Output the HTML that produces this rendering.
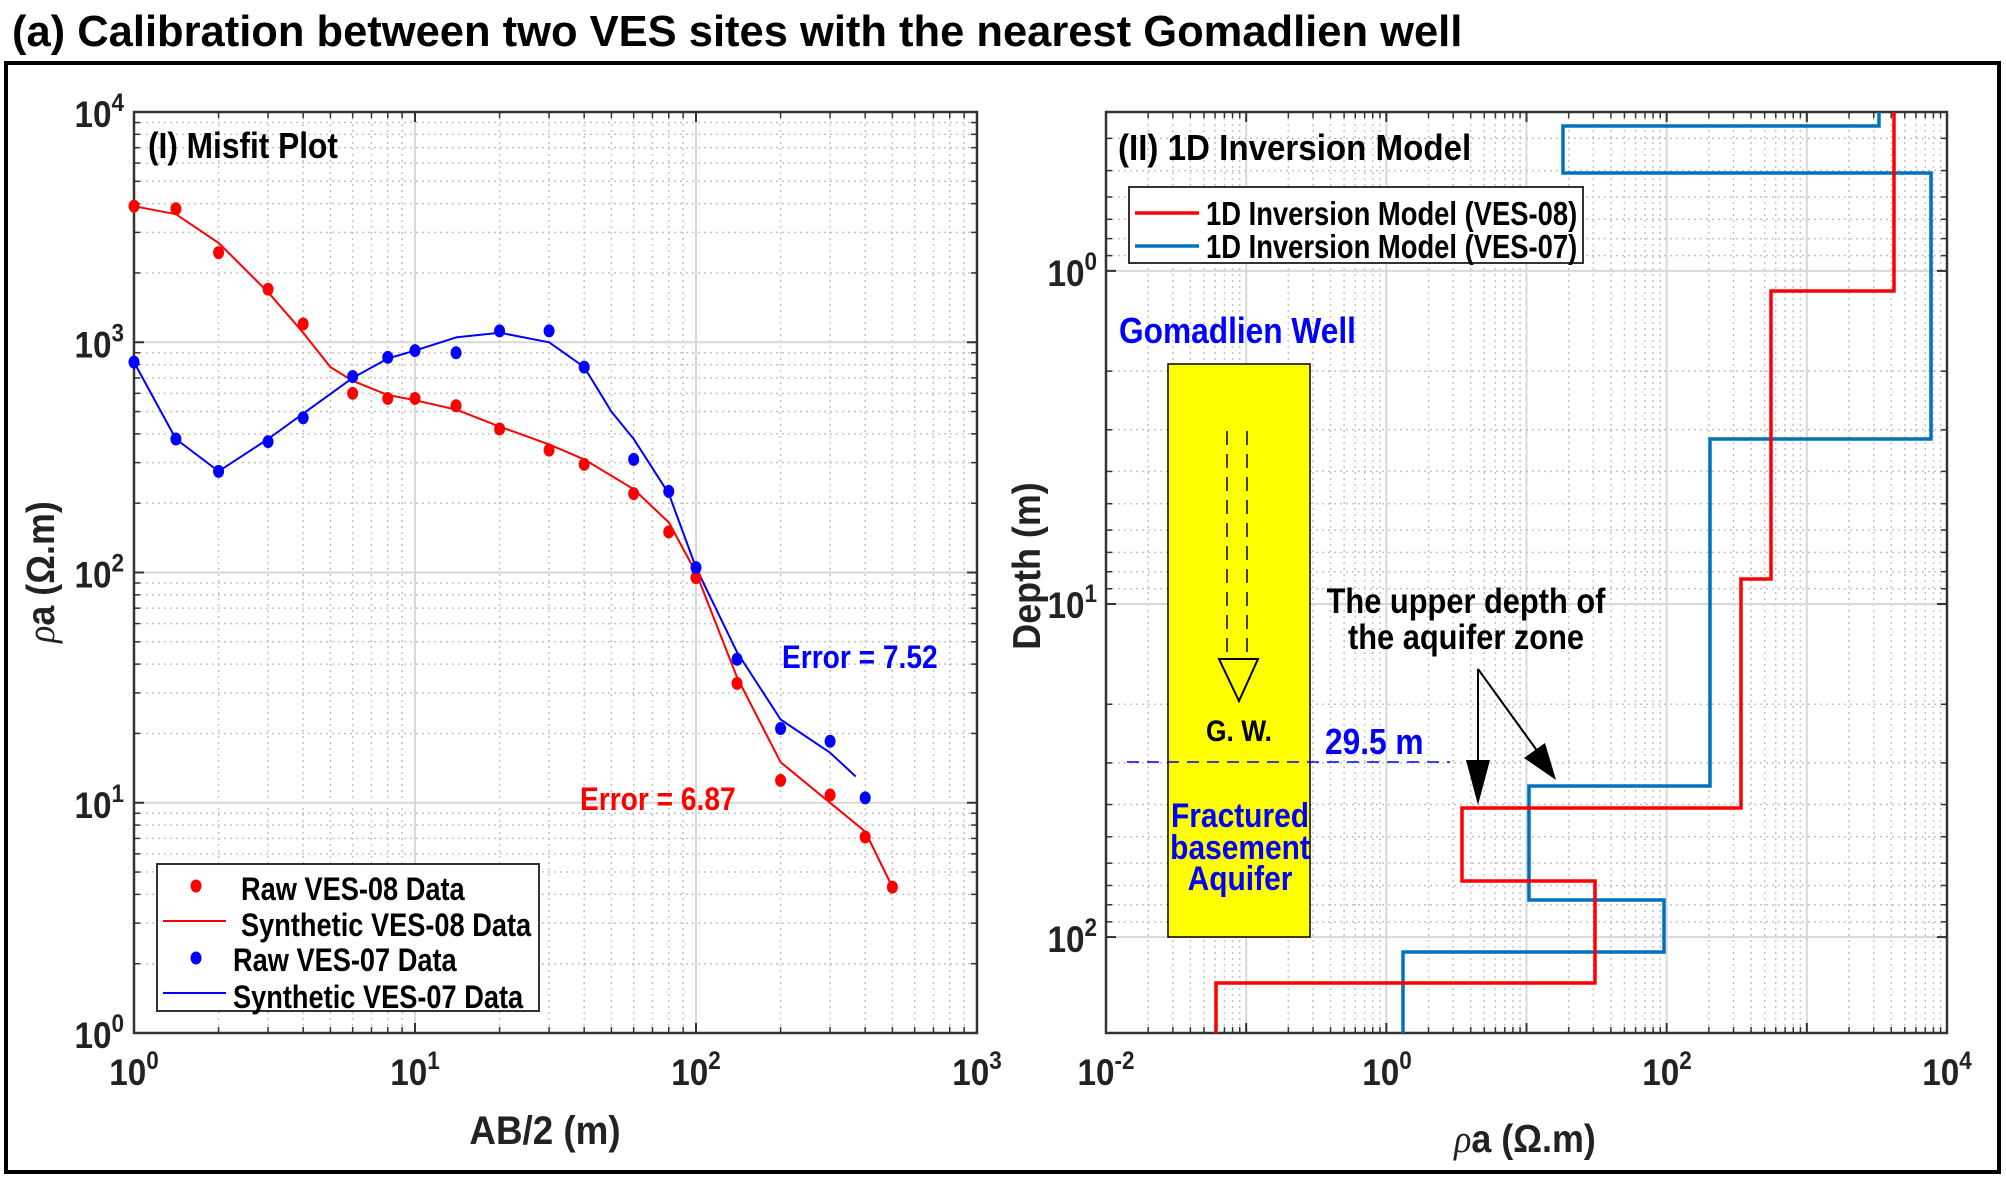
<!DOCTYPE html>
<html><head><meta charset="utf-8"><style>
html,body{margin:0;padding:0;background:#fff}
svg{display:block}
text{font-family:"Liberation Sans Narrow","Liberation Sans",Arial,sans-serif;font-weight:bold}
</style></head><body>
<svg id="s" width="2006" height="1178" xmlns="http://www.w3.org/2000/svg">
<rect width="2006" height="1178" fill="#fff"/>
<text x="12" y="46" font-size="43.5" font-family="Liberation Sans, sans-serif" fill="#000">(a) Calibration between two VES sites with the nearest Gomadlien well</text>
<rect x="6" y="63" width="1993" height="1109" fill="none" stroke="#000" stroke-width="4"/>
<g id="g"></g>
</svg>
<script>
const NS="http://www.w3.org/2000/svg";const G=document.getElementById('g');const SX=0.88;
function el(t,a,p){const e=document.createElementNS(NS,t);for(const k in a)e.setAttribute(k,a[k]);(p||G).appendChild(e);return e;}
function txt(x,y,s,o){o=o||{};const sx=o.sx||SX;const tr=o.tr?o.tr+' scale('+sx+',1)':'translate('+x+','+y+') scale('+sx+',1)';
 const e=el('text',{x:0,y:0,'font-size':o.fs||34,fill:o.c||'#000','text-anchor':o.a||'start',transform:tr});e.textContent=s;return e;}
function pow(x,y,e,anchor){const t=el('text',{x:0,y:0,'font-size':37,fill:'#222','text-anchor':anchor||'middle',transform:'translate('+x+','+y+') scale(0.9,1)'});t.appendChild(document.createTextNode('10'));const sp=el('tspan',{dy:-16,'font-size':25},t);sp.textContent=e;return t;}
function axes(L,T,R,B,xd0,xd1,yd0,yd1,yrev){
 const fx=v=>L+(R-L)*(Math.log10(v)-xd0)/(xd1-xd0);
 let fy;
 if(!yrev) fy=v=>B-(B-T)*(Math.log10(v)-yd0)/(yd1-yd0);
 else fy=v=>T+(B-T)*(Math.log10(v)-yd0)/(yd1-yd0);
 for(let d=Math.floor(xd0);d<=xd1;d++){for(let m=1;m<10;m++){const v=m*Math.pow(10,d);const x=fx(v);if(x<L-0.5||x>R+0.5)continue;
  if(m==1){el('line',{x1:x,y1:T,x2:x,y2:B,stroke:'#d8d8d8','stroke-width':2});el('line',{x1:x,y1:B,x2:x,y2:B-10,stroke:'#333','stroke-width':2});el('line',{x1:x,y1:T,x2:x,y2:T+10,stroke:'#333','stroke-width':2});}
  else{el('line',{x1:x,y1:T,x2:x,y2:B,stroke:'#c4c4c4','stroke-width':1.5,'stroke-dasharray':'2,4'});el('line',{x1:x,y1:B,x2:x,y2:B-6,stroke:'#333','stroke-width':1.5});el('line',{x1:x,y1:T,x2:x,y2:T+6,stroke:'#333','stroke-width':1.5});}}}
 for(let d=Math.floor(yd0)-1;d<=yd1;d++){for(let m=1;m<10;m++){const v=m*Math.pow(10,d);const y=fy(v);if(y<T-0.5||y>B+0.5)continue;
  if(m==1){el('line',{x1:L,y1:y,x2:R,y2:y,stroke:'#d8d8d8','stroke-width':2});el('line',{x1:L,y1:y,x2:L+10,y2:y,stroke:'#333','stroke-width':2});el('line',{x1:R,y1:y,x2:R-10,y2:y,stroke:'#333','stroke-width':2});}
  else{el('line',{x1:L,y1:y,x2:R,y2:y,stroke:'#c4c4c4','stroke-width':1.5,'stroke-dasharray':'2,4'});el('line',{x1:L,y1:y,x2:L+6,y2:y,stroke:'#333','stroke-width':1.5});el('line',{x1:R,y1:y,x2:R-6,y2:y,stroke:'#333','stroke-width':1.5});}}}
 el('rect',{x:L,y:T,width:R-L,height:B-T,fill:'none',stroke:'#333','stroke-width':2.5});
 return [fx,fy];
}
function rho(x,y,rot){const tr=rot?'translate('+x+','+y+') rotate(-90) scale(0.92,1)':'translate('+x+','+y+') scale(0.92,1)';
 const t=el('text',{x:0,y:0,'font-size':39,fill:'#222','text-anchor':'middle',transform:tr});
 const a=el('tspan',{'font-style':'italic','font-family':'Liberation Serif, serif','font-weight':'normal'},t);a.textContent='ρ';
 const b=el('tspan',{},t);b.textContent='a (Ω.m)';}
// LEFT
const [lx,ly]=axes(134,112,977,1033,0,3,0,4,false);
for(let e=0;e<=3;e++)pow(134+281*e,1085,e);
for(let e=0;e<=4;e++)pow(124,1048-230.25*e,e,'end');
txt(148,158,'(I) Misfit Plot',{fs:36});
txt(545,1144,'AB/2 (m)',{a:'middle',c:'#222',fs:40,sx:0.92});
rho(54,572,true);
function poly(pts,fx,fy,c,w){el('polyline',{points:pts.map(p=>fx(p[0]).toFixed(1)+','+fy(p[1]).toFixed(1)).join(' '),fill:'none',stroke:c,'stroke-width':w,'stroke-linejoin':'round'});}
function dots(pts,fx,fy,c){pts.forEach(p=>el('ellipse',{cx:fx(p[0]),cy:fy(p[1]),rx:5.5,ry:6.5,fill:c}));}
const rs=[[1,3900],[1.41,3600],[2,2700],[3,1650],[4,1100],[5,780],[6,680],[8,590],[10,560],[14,510],[20,430],[30,360],[40,310],[60,230],[80,165],[100,100],[140,35],[200,15],[300,10],[400,7.5],[500,4.3]];
const rr=[[1,3900],[1.41,3800],[2,2450],[3,1700],[4,1200],[6,600],[8,570],[10,570],[14,530],[20,420],[30,340],[40,295],[60,220],[80,150],[100,95],[140,33],[200,12.5],[300,10.8],[400,7.1],[500,4.3]];
const bs=[[1,820],[1.41,380],[2,275],[3,380],[4,490],[6,700],[8,850],[10,920],[14,1050],[20,1100],[30,1000],[40,780],[50,500],[60,380],[80,220],[100,105],[140,45],[200,23],[300,16.5],[370,13]];
const br=[[1,820],[1.41,380],[2,275],[3,370],[4,470],[6,710],[8,860],[10,920],[14,900],[20,1120],[30,1120],[40,780],[60,310],[80,225],[100,105],[140,42],[200,21],[300,18.5],[400,10.5]];
poly(rs,lx,ly,'#ff0000',2);poly(bs,lx,ly,'#0000ff',2);dots(rr,lx,ly,'#ff0000');dots(br,lx,ly,'#0000ff');
txt(782,668,'Error = 7.52',{c:'#0000ff',fs:32});
txt(580,810,'Error = 6.87',{c:'#ff0000',fs:32});
el('rect',{x:157,y:864,width:382,height:147,fill:'#fff',stroke:'#333','stroke-width':2});
el('ellipse',{cx:196,cy:886,rx:5.5,ry:6.5,fill:'#ff0000'});txt(241,900,'Raw VES-08 Data',{fs:32,sx:0.85});
el('line',{x1:163,y1:921,x2:226,y2:921,stroke:'#ff0000','stroke-width':2});txt(241,936,'Synthetic VES-08 Data',{fs:32,sx:0.85});
el('ellipse',{cx:196,cy:958,rx:5.5,ry:6.5,fill:'#0000ff'});txt(233,971,'Raw VES-07 Data',{fs:32,sx:0.85});
el('line',{x1:163,y1:993,x2:226,y2:993,stroke:'#0000ff','stroke-width':2});txt(233,1008,'Synthetic VES-07 Data',{fs:32,sx:0.85});
// RIGHT
const [rx,ry]=axes(1106,112,1947,1033,-2,4,-0.477,2.288,true);
pow(1106,1085,'-2');pow(1387,1085,0);pow(1667,1085,2);pow(1947,1085,4);
pow(1097,286,0,'end');pow(1097,618,1,'end');pow(1097,952,2,'end');
txt(1118,160,'(II) 1D Inversion Model',{fs:36,sx:0.92});
txt(0,0,'Depth (m)',{a:'middle',c:'#222',fs:39,sx:0.92,tr:'translate(1040,566) rotate(-90)'});
rho(1525,1152,false);
el('rect',{x:1168,y:364,width:142,height:573,fill:'#ffff00',stroke:'#000','stroke-width':1.5});
el('line',{x1:1227,y1:431,x2:1227,y2:659,stroke:'#000','stroke-width':1.5,'stroke-dasharray':'14,9'});
el('line',{x1:1247,y1:431,x2:1247,y2:659,stroke:'#000','stroke-width':1.5,'stroke-dasharray':'14,9'});
el('polygon',{points:'1219,659 1258,659 1239,701',fill:'none',stroke:'#000','stroke-width':2});
txt(1239,741,'G. W.',{a:'middle',fs:30});
txt(1119,343,'Gomadlien Well',{c:'#0000ff',fs:36});
el('line',{x1:1127,y1:762,x2:1450,y2:762,stroke:'#0000ff','stroke-width':1.5,'stroke-dasharray':'12,8'});
txt(1325,754,'29.5 m',{c:'#0000ff',fs:36});
txt(1240,827,'Fractured',{a:'middle',c:'#0000ff',fs:34});
txt(1240,859,'basement',{a:'middle',c:'#0000ff',fs:34});
txt(1240,890,'Aquifer',{a:'middle',c:'#0000ff',fs:34});
el('polyline',{points:'1879,112 1879,126 1563,126 1563,173 1931,173 1931,439 1710,439 1710,786 1529,786 1529,900 1664,900 1664,952 1403,952 1403,1033',fill:'none',stroke:'#0072BD','stroke-width':3.5});
el('polyline',{points:'1894,112 1894,291 1771,291 1771,579 1741,579 1741,808 1462,808 1462,881 1595,881 1595,983 1216,983 1216,1033',fill:'none',stroke:'#ff0000','stroke-width':3.5});
txt(1466,613,'The upper depth of',{a:'middle',fs:35});
txt(1466,649,'the aquifer zone',{a:'middle',fs:35});
el('line',{x1:1478,y1:669,x2:1478,y2:770,stroke:'#000','stroke-width':2});
el('polygon',{points:'1466,760 1490,760 1478,805',fill:'#000'});
el('line',{x1:1478,y1:669,x2:1538,y2:752,stroke:'#000','stroke-width':2});
el('polygon',{points:'1524,758 1545,743 1556,780',fill:'#000'});
el('rect',{x:1129,y:187,width:454,height:76,fill:'#fff',stroke:'#333','stroke-width':2});
el('line',{x1:1135,y1:213,x2:1199,y2:213,stroke:'#ff0000','stroke-width':3.5});txt(1206,225,'1D Inversion Model (VES-08)',{fs:33,sx:0.83});
el('line',{x1:1135,y1:246,x2:1199,y2:246,stroke:'#0072BD','stroke-width':3.5});txt(1206,258,'1D Inversion Model (VES-07)',{fs:33,sx:0.83});
</script>
</body></html>
